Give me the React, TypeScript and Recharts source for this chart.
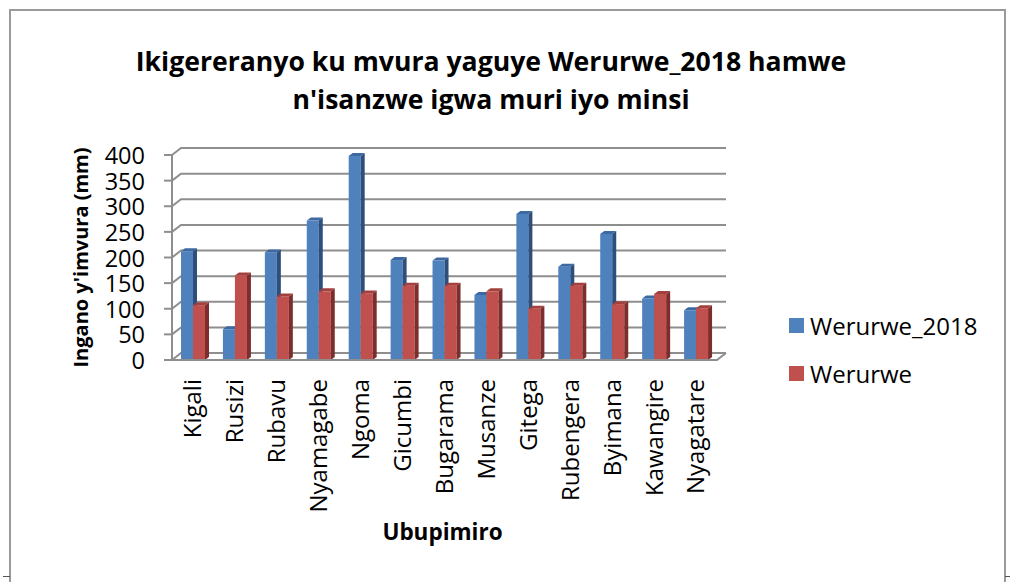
import React from 'react';
import { BarChart, Bar, XAxis, YAxis, CartesianGrid, Legend, ReferenceLine } from 'recharts';

const categories = ['Kigali', 'Rusizi', 'Rubavu', 'Nyamagabe', 'Ngoma', 'Gicumbi', 'Bugarama', 'Musanze', 'Gitega', 'Rubengera', 'Byimana', 'Kawangire', 'Nyagatare'];
const werurwe2018 = [212, 60, 210, 272, 398, 195, 194, 127, 285, 182, 246, 120, 97];
const werurwe = [107, 165, 124, 134, 130, 145, 145, 134, 100, 145, 109, 129, 101];
const yTicks = [0, 50, 100, 150, 200, 250, 300, 350, 400];
const seriesNames = ['Werurwe_2018', 'Werurwe'];
const titleLines = ['Ikigereranyo ku mvura yaguye Werurwe_2018 hamwe', "n'isanzwe igwa muri iyo minsi"];
const xTitle = 'Ubupimiro';
const yTitle = "Ingano y'imvura (mm)";

const data = categories.map((c, i) => ({ name: c, a: werurwe2018[i], b: werurwe[i] }));

const FONT = "'Open Sans', sans-serif";
const GX = 9;
const GY = 7;
const DX = 4;
const DY = 3;
const GRID = '#8e8e8e';

const make3D = (topColor: string, sideColor: string) => (props: any) => {
  const { x, y, width, height, fill } = props;
  if (!height || height <= 0) return <g />;
  return (
    <g>
      <rect x={x} y={y} width={width} height={height} fill={fill} />
      <polygon points={`${x},${y} ${x + DX},${y - DY} ${x + width + DX},${y - DY} ${x + width},${y}`} fill={topColor} />
      <polygon points={`${x + width},${y} ${x + width + DX},${y - DY} ${x + width + DX},${y + height - DY} ${x + width},${y + height}`} fill={sideColor} />
    </g>
  );
};

const blueShape = make3D('#3d69a3', '#2e4f7d');
const redShape = make3D('#a3403d', '#7d2e2c');

const gridLine = (p: any) => (
  <path
    key={`g-${p.index}`}
    d={`M${p.x1},${p.y1} L${p.x1 + GX},${p.y1 - GY} L${p.x2 + GX},${p.y2 - GY}`}
    stroke={GRID}
    strokeWidth={2}
    fill="none"
  />
);

const floorShape = (p: any) => (
  <path
    d={`M${p.x1},${p.y1} L${p.x2},${p.y2} L${p.x2 + GX},${p.y2 - GY}`}
    stroke={GRID}
    strokeWidth={2}
    fill="none"
  />
);

const XTick = (p: any) => {
  const { x, y, payload } = p;
  const ty = y + 11;
  return (
    <text
      x={x}
      y={ty}
      transform={`rotate(-90, ${x}, ${ty})`}
      textAnchor="end"
      dy="0.35em"
      fontSize={24}
      fontFamily={FONT}
      fill="#000"
    >
      {payload.value}
    </text>
  );
};

const YTick = (p: any) => {
  const { x, y, payload } = p;
  return (
    <text x={x - 17} y={y + 9} textAnchor="end" fontSize={23.5} fontFamily={FONT} fill="#000">
      {payload.value}
    </text>
  );
};

const xLabel = (p: any) => {
  const vb = p.viewBox;
  return (
    <text x={vb.x + vb.width / 2 - 2} y={vb.y + 180} textAnchor="middle" fontSize={22.5} fontWeight="bold" fontFamily={FONT} fill="#000">
      {xTitle}
    </text>
  );
};

const yLabel = (p: any) => {
  const vb = p.viewBox;
  const cx = vb.x - 14;
  const cy = vb.y + vb.height / 2;
  return (
    <text x={cx} y={cy} transform={`rotate(-90, ${cx}, ${cy})`} textAnchor="middle" fontSize={20} fontWeight="bold" fontFamily={FONT} fill="#000">
      {yTitle}
    </text>
  );
};

const legendContent = (p: any) => {
  const items = [...(p.payload || [])].sort(
    (a: any, b: any) => seriesNames.indexOf(a.value) - seriesNames.indexOf(b.value)
  );
  return (
    <div style={{ fontFamily: FONT }}>
      {items.map((e: any) => (
        <div key={e.value} style={{ display: 'flex', alignItems: 'center', height: 48, fontSize: 24, color: '#000' }}>
          <span style={{ display: 'inline-block', width: 15, height: 15, background: e.color, marginRight: 6 }} />
          <span>{e.value}</span>
        </div>
      ))}
    </div>
  );
};

export default function App() {
  return (
    <div style={{ position: 'absolute', left: 0, top: 0, width: 1010, height: 582, background: '#fff', overflow: 'hidden', fontFamily: FONT }}>
      <div style={{ position: 'absolute', left: 9, top: 9, width: 997, height: 620, border: '2px solid #9a9a9a', boxSizing: 'border-box' }} />
      <div style={{ position: 'absolute', left: 3, top: 576, width: 7, height: 1, background: '#555' }} />
      <div style={{ position: 'absolute', left: 1005, top: 576, width: 5, height: 1, background: '#555' }} />
      <div style={{ position: 'absolute', left: 0, top: 0 }}>
        <BarChart
          width={1010}
          height={582}
          data={data}
          margin={{ top: 155, right: 293, bottom: 32, left: 102 }}
          barGap={0}
          barSize={12}
        >
          <CartesianGrid vertical={false} horizontal={gridLine} />
          <XAxis dataKey="name" height={190} interval={0} axisLine={false} tickLine={false} tick={<XTick />} label={xLabel} />
          <YAxis
            width={70}
            domain={[0, 400]}
            ticks={yTicks}
            interval={0}
            axisLine={{ stroke: GRID, strokeWidth: 2 }}
            tickLine={{ stroke: GRID, strokeWidth: 2 }}
            tickSize={8}
            tick={<YTick />}
            label={yLabel}
          />
          <ReferenceLine y={0} shape={floorShape} ifOverflow="visible" />
          <Bar dataKey="a" name={seriesNames[0]} fill="#4f81bd" shape={blueShape} isAnimationActive={false} />
          <Bar dataKey="b" name={seriesNames[1]} fill="#c0504d" shape={redShape} isAnimationActive={false} />
          <Legend layout="vertical" align="center" verticalAlign="middle" wrapperStyle={{ left: 789, top: 301, width: 215 }} content={legendContent} />
        </BarChart>
      </div>
      <svg width={1010} height={582} style={{ position: 'absolute', left: 0, top: 0, pointerEvents: 'none' }}>
        {titleLines.map((t, i) => (
          <text key={i} x={491} y={71 + i * 38} textAnchor="middle" fontSize={26.6} fontWeight="bold" fontFamily={FONT} fill="#000">
            {t}
          </text>
        ))}
      </svg>
    </div>
  );
}
